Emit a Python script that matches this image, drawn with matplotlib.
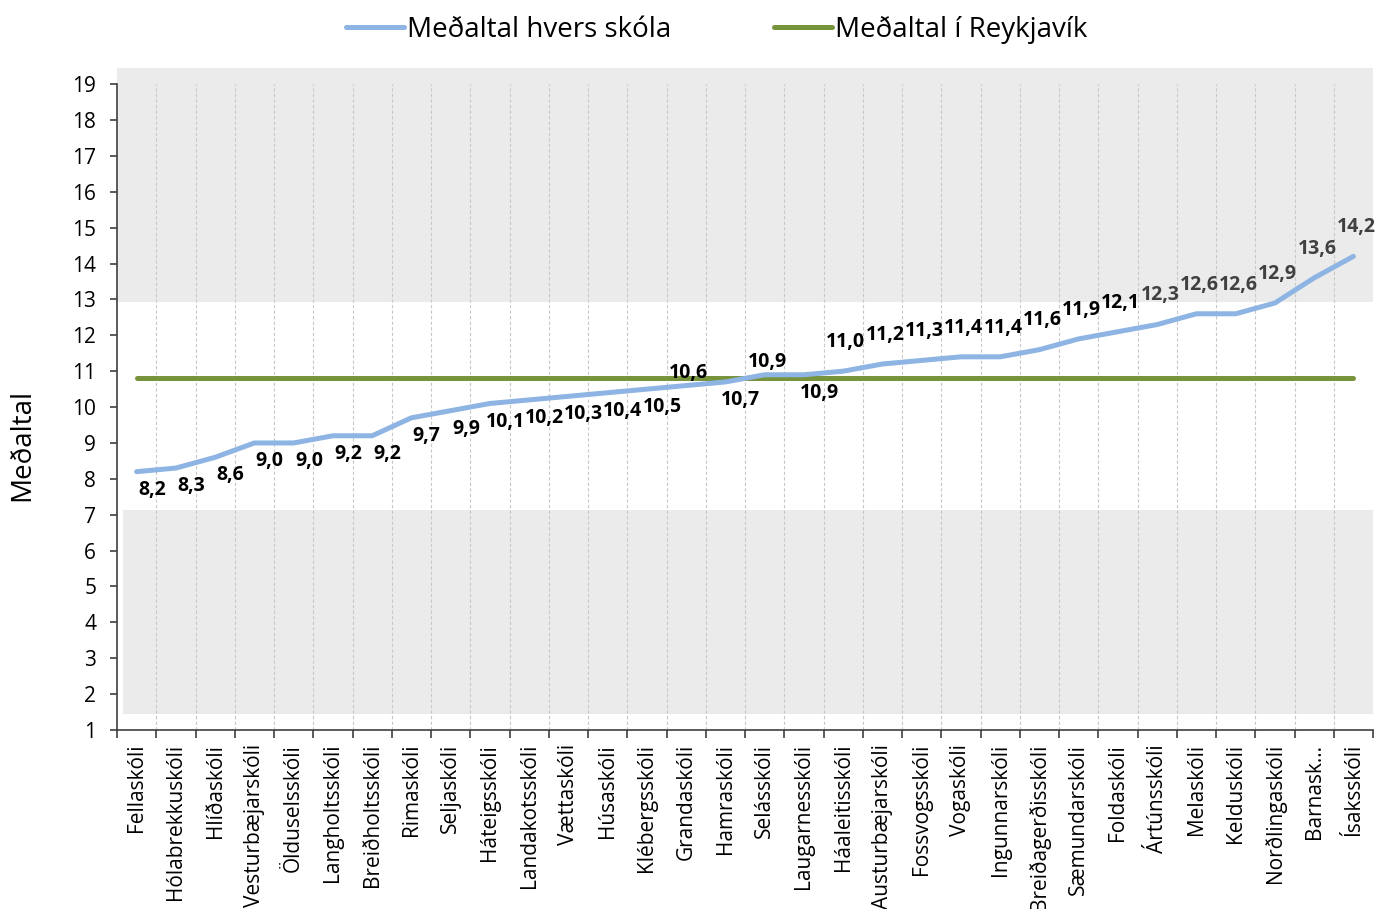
import numpy as np
import matplotlib
matplotlib.use("Agg")
import matplotlib.pyplot as plt

plt.rcParams['font.family'] = ['Open Sans', 'DejaVu Sans']

# gögn
skolar = ["Fellaskóli", "Hólabrekkuskóli", "Hlíðaskóli", "Vesturbæjarskóli", "Ölduselsskóli",
          "Langholtsskóli", "Breiðholtsskóli", "Rimaskóli", "Seljaskóli", "Háteigsskóli",
          "Landakotsskóli", "Vættaskóli", "Húsaskóli", "Klébergsskóli", "Grandaskóli",
          "Hamraskóli", "Selásskóli", "Laugarnesskóli", "Háaleitisskóli", "Austurbæjarskóli",
          "Fossvogsskóli", "Vogaskóli", "Ingunnarskóli", "Breiðagerðisskóli", "Sæmundarskóli",
          "Foldaskóli", "Ártúnsskóli", "Melaskóli", "Kelduskóli", "Norðlingaskóli",
          "Barnask…", "Ísaksskóli"]
medaltal = [8.2, 8.3, 8.6, 9.0, 9.0, 9.2, 9.2, 9.7, 9.9, 10.1, 10.2, 10.3, 10.4, 10.5, 10.6,
            10.7, 10.9, 10.9, 11.0, 11.2, 11.3, 11.4, 11.4, 11.6, 11.9, 12.1, 12.3, 12.6,
            12.6, 12.9, 13.6, 14.2]
reykjavik = 10.8
# hvar merkið er: n = neðan, o = ofan
merki_stada = ["n"] * 14 + ["o", "n", "o", "n"] + ["o"] * 14

blar = "#8DB4E2"
graenn = "#77933C"

fig = plt.figure(figsize=(13.78, 9.09), dpi=100)
ax = fig.add_axes([117 / 1378, 1 - 730 / 909, 1256 / 1378, (730 - 68) / 909])

x = np.arange(len(skolar))
ax.set_xlim(-0.5, len(skolar) - 0.5)
ax.set_ylim(1, 19.45)

# gráir borðar
ax.axhspan(12.92, 19.45, color="#EBEBEB", zorder=0, lw=0)
ax.axhspan(1.45, 7.13, xmin=0.005, xmax=1, color="#EBEBEB", zorder=0, lw=0)

# lóðréttar línur
for b in np.arange(0.5, len(skolar) - 0.5, 1):
    ax.plot([b, b], [1, 19], color="#C8C8C8", lw=0.8, ls=(0, (3, 2)), zorder=1)

ax.plot(x, medaltal, color=blar, lw=3.6, solid_capstyle="round", zorder=3,
        label="Meðaltal hvers skóla")
ax.plot([x[0], x[-1]], [reykjavik, reykjavik], color=graenn, lw=3.6,
        solid_capstyle="round", zorder=2, label="Meðaltal í Reykjavík")

for i, v in enumerate(medaltal):
    txt = f"{v:.1f}".replace(".", ",")
    litur = "#404040" if v >= 12.3 else "black"
    if merki_stada[i] == "n":
        ax.annotate(txt, (i, v), xytext=(11, -13), textcoords="offset points",
                    ha="center", va="center", fontsize=14, fontweight="bold",
                    color=litur, zorder=4)
    else:
        dy = 9 if i in (14, 16) else 21
        ax.annotate(txt, (i, v), xytext=(2, dy), textcoords="offset points",
                    ha="center", va="center", fontsize=14, fontweight="bold",
                    color=litur, zorder=4)

ax.set_yticks(range(1, 20))
ax.tick_params(axis="y", labelsize=15, length=5, width=1.2, pad=10, colors="#404040",
               labelcolor="black")
ax.set_xticks(np.arange(-0.5, len(skolar), 1))
ax.set_xticklabels([])
ax.set_xticks(x, minor=True)
ax.set_xticklabels(skolar, minor=True, rotation=90, fontsize=15)
ax.tick_params(axis="x", which="major", length=6, width=1.2, colors="#404040")
ax.tick_params(axis="x", which="minor", length=0, pad=10)

for s in ["top", "right"]:
    ax.spines[s].set_visible(False)
ax.spines["left"].set_bounds(1, 19)
ax.spines["left"].set_color("#404040")
ax.spines["bottom"].set_color("#404040")
ax.spines["left"].set_linewidth(1.2)
ax.spines["bottom"].set_linewidth(1.2)

ax.set_ylabel("Meðaltal", fontsize=20, labelpad=26)
ax.yaxis.label.set_y(0.43)

fig.legend(loc="upper center", bbox_to_anchor=(0.52, 1.01), ncol=2, frameon=False,
           fontsize=20, handlelength=2.1, columnspacing=3.7, handletextpad=0.1)

fig.savefig("out.png", dpi=100)
